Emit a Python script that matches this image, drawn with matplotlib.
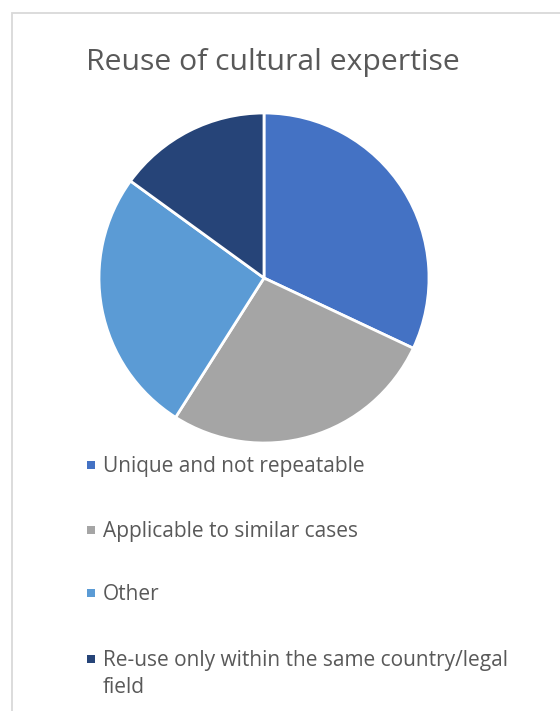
import matplotlib.pyplot as plt
from matplotlib.patches import Rectangle

labels = ['Unique and not repeatable', 'Applicable to similar cases', 'Other',
          'Re-use only within the same country/legal\nfield']
values = [32, 27, 26, 15]
colors = ['#4472C4', '#A5A5A5', '#5B9BD5', '#264478']

W, H = 560, 711
fig = plt.figure(figsize=(W / 100, H / 100), dpi=100)
fig.patch.set_facecolor('white')

# light chart-area border
fig.patches.append(Rectangle((12 / W, -0.01), 1.0, 1 - 13 / H + 0.01,
                             transform=fig.transFigure, fill=False,
                             edgecolor='#d9d9d9', linewidth=1.3))

cx, cy, r = 264, 278, 165
ax = fig.add_axes([(cx - r) / W, (H - cy - r) / H, 2 * r / W, 2 * r / H])
ax.pie(values, colors=colors, startangle=90, counterclock=False,
       wedgeprops=dict(edgecolor='white', linewidth=2))
ax.set_xlim(-1, 1)
ax.set_ylim(-1, 1)
ax.axis('off')

fig.text(273 / W, 1 - 70 / H, 'Reuse of cultural expertise', ha='center', va='baseline',
         fontsize=21.7, color='#595959', family='Open Sans')

baselines = [472, 537, 600, 666]
for lab, col, yb in zip(labels, colors, baselines):
    fig.patches.append(Rectangle((87 / W, 1 - 469 / H - (yb - 472) / H), 8 / W, 8 / H,
                                 transform=fig.transFigure, facecolor=col, edgecolor='none'))
    for i, line in enumerate(lab.split('\n')):
        fig.text(103 / W, 1 - (yb + 27 * i) / H, line, ha='left', va='baseline',
                 fontsize=15, color='#595959', family='Open Sans')

fig.savefig('out.png', dpi=100)
